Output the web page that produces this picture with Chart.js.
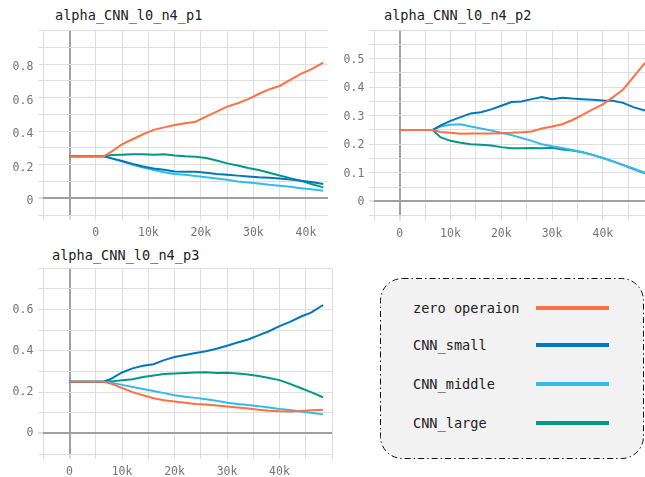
<!DOCTYPE html>
<html>
<head>
<meta charset="utf-8">
<script src="https://cdn.jsdelivr.net/npm/chart.js"></script>
<style>
  body { margin: 0; background: #fff; width: 645px; height: 477px; position: relative; overflow: hidden; font-family: "DejaVu Sans Mono", monospace; }
  .panel { position: absolute; }
  .title { position: absolute; font-size: 13.6px; line-height: 16px; color: #212121; white-space: nowrap; }
  .legend { position: absolute; left: 380px; top: 278px; width: 264px; height: 181px; }
  .legend svg { position: absolute; left: 0; top: 0; }
  .item { position: absolute; left: 33px; font-size: 13.6px; line-height: 16px; color: #212121; white-space: nowrap; }
  .swatch { position: absolute; left: 156px; width: 73px; height: 4px; }
</style>
</head>
<body>
<div class="title" style="left:55px;top:7px">alpha_CNN_l0_n4_p1</div>
<div class="title" style="left:384px;top:7px">alpha_CNN_l0_n4_p2</div>
<div class="title" style="left:52px;top:247px">alpha_CNN_l0_n4_p3</div>
<canvas id="p1" class="panel" width="330" height="240" style="left:0;top:0"></canvas>
<canvas id="p2" class="panel" width="315" height="240" style="left:330px;top:0"></canvas>
<canvas id="p3" class="panel" width="340" height="242" style="left:0;top:235px"></canvas>
<div class="legend" id="legend">
  <svg width="264" height="181"><rect x="0.5" y="0.5" width="263" height="180" rx="22" ry="22" fill="#f2f2f2" stroke="#111" stroke-width="1" stroke-dasharray="6 3 1.5 3"></rect></svg>
</div>
<script>
const seriesNames = ["zero operaion", "CNN_small", "CNN_middle", "CNN_large"];
const seriesColors = ["#ff7043", "#0077bb", "#33bbee", "#009988"];

// training steps since the start of each run
const steps = [0, 6500, 8000, 10000, 12000, 14000, 16000, 18000, 20000, 22000, 24000, 26000,
  28000, 30000, 32000, 34000, 36000, 38000, 40000, 42000, 44000, 46000, 48300];

// p1
const p1Zero = [0.25, 0.25, 0.278, 0.322, 0.352, 0.382, 0.408, 0.423, 0.437, 0.447, 0.457, 0.487, 0.517, 0.547, 0.567, 0.592, 0.622, 0.65, 0.67, 0.706, 0.742, 0.769, 0.81];
const p1Small = [0.25, 0.25, 0.238, 0.222, 0.205, 0.19, 0.178, 0.17, 0.16, 0.158, 0.158, 0.152, 0.145, 0.14, 0.135, 0.13, 0.125, 0.122, 0.118, 0.112, 0.105, 0.097, 0.085];
const p1Middle = [0.25, 0.25, 0.238, 0.22, 0.2, 0.183, 0.168, 0.155, 0.145, 0.14, 0.133, 0.125, 0.118, 0.11, 0.1, 0.094, 0.088, 0.08, 0.075, 0.068, 0.06, 0.053, 0.045];
const p1Large = [0.25, 0.25, 0.258, 0.26, 0.262, 0.262, 0.26, 0.262, 0.255, 0.25, 0.248, 0.24, 0.225, 0.208, 0.195, 0.18, 0.168, 0.152, 0.136, 0.12, 0.105, 0.085, 0.065];

// p2
const p2Zero = [0.25, 0.25, 0.243, 0.24, 0.237, 0.238, 0.238, 0.238, 0.239, 0.24, 0.242, 0.245, 0.255, 0.262, 0.27, 0.285, 0.303, 0.322, 0.34, 0.365, 0.392, 0.435, 0.485];
const p2Small = [0.25, 0.25, 0.265, 0.282, 0.295, 0.308, 0.312, 0.322, 0.335, 0.348, 0.35, 0.358, 0.365, 0.358, 0.363, 0.36, 0.358, 0.356, 0.353, 0.352, 0.345, 0.33, 0.318];
const p2Middle = [0.25, 0.25, 0.262, 0.268, 0.27, 0.262, 0.255, 0.248, 0.24, 0.232, 0.222, 0.212, 0.2, 0.193, 0.187, 0.18, 0.172, 0.163, 0.152, 0.14, 0.128, 0.115, 0.1];
const p2Large = [0.25, 0.25, 0.225, 0.212, 0.205, 0.2, 0.198, 0.196, 0.19, 0.186, 0.186, 0.187, 0.186, 0.188, 0.182, 0.178, 0.172, 0.163, 0.152, 0.14, 0.127, 0.113, 0.098];

// p3
const p3Zero = [0.25, 0.25, 0.24, 0.22, 0.2, 0.185, 0.17, 0.16, 0.155, 0.148, 0.142, 0.14, 0.135, 0.13, 0.125, 0.12, 0.115, 0.11, 0.107, 0.106, 0.108, 0.112, 0.115];
const p3Small = [0.25, 0.25, 0.265, 0.295, 0.315, 0.328, 0.335, 0.355, 0.37, 0.38, 0.39, 0.398, 0.41, 0.425, 0.44, 0.455, 0.475, 0.495, 0.52, 0.54, 0.565, 0.585, 0.622];
const p3Middle = [0.25, 0.25, 0.245, 0.235, 0.225, 0.215, 0.205, 0.195, 0.185, 0.178, 0.172, 0.165, 0.158, 0.148, 0.142, 0.137, 0.132, 0.125, 0.118, 0.113, 0.106, 0.1, 0.092];
const p3Large = [0.25, 0.25, 0.252, 0.258, 0.262, 0.273, 0.28, 0.288, 0.29, 0.293, 0.295, 0.296, 0.293, 0.294, 0.29, 0.285, 0.278, 0.268, 0.258, 0.24, 0.22, 0.2, 0.175];

// axis settings
const xTickLabels = { 0: "0", 10000: "10k", 20000: "20k", 30000: "30k", 40000: "40k" };

const GRID = "#dedede";
const AXIS = "#a0a0a0";
const TICK_FONT = { family: "DejaVu Sans Mono", size: 11.5 };

function isNear(a, b) {
  return Math.abs(a - b) < 1e-6;
}

// gridline values between min and max, every step
function gridValues(min, max, step) {
  const out = [];
  const n = Math.floor((max - min) / step + 1e-6);
  for (let k = 0; k <= n; k++) out.push({ value: Math.round((min + k * step) * 1000) / 1000 });
  return out;
}

function makePanel(id, series, opt) {
  const datasets = series.map((values, i) => ({
    label: seriesNames[i],
    data: values.map((v, k) => ({ x: steps[k] + opt.xShift, y: v })),
    borderColor: seriesColors[i],
    borderWidth: 2,
    pointRadius: 0,
    tension: 0,
  }));

  return new Chart(document.getElementById(id), {
    type: "line",
    data: { datasets },
    options: {
      responsive: false,
      animation: false,
      layout: { padding: { left: 0, top: opt.padTop, right: opt.padRight, bottom: 0 } },
      plugins: { legend: { display: false }, tooltip: { enabled: false } },
      scales: {
        x: {
          type: "linear",
          min: opt.xMin,
          max: opt.xMax,
          border: { display: false },
          grid: {
            color: (c) => (isNear(c.tick.value, opt.xShift) ? AXIS : GRID),
            lineWidth: (c) => (isNear(c.tick.value, opt.xShift) ? 2 : 1),
            tickColor: GRID,
            tickLength: 5,
          },
          ticks: {
            autoSkip: false,
            maxRotation: 0,
            padding: 6,
            color: "#757575",
            font: TICK_FONT,
            callback: (v) => xTickLabels[v] || "",
          },
          afterBuildTicks: (s) => {
            s.ticks = gridValues(opt.xMin, opt.xMax, 5000);
          },
          afterFit: (s) => {
            s.height = opt.xHeight;
            s.paddingLeft = 0;
            s.paddingRight = 0;
          },
        },
        y: {
          min: opt.yMin,
          max: opt.yMax,
          border: { display: false },
          grid: {
            color: (c) => (isNear(c.tick.value, 0) ? AXIS : GRID),
            lineWidth: (c) => (isNear(c.tick.value, 0) ? 2 : 1),
            tickColor: GRID,
            tickLength: 5,
          },
          ticks: {
            autoSkip: false,
            padding: 5,
            labelOffset: opt.yLabelShift,
            color: "#757575",
            font: TICK_FONT,
            callback: (v) => {
              const n = Math.round(v * 100);
              const step = Math.round(opt.yLabel * 100);
              if (n < 0 || n > Math.round(opt.yLabelMax * 100) || n % step !== 0) return "";
              return n === 0 ? "0" : String(n / 100);
            },
          },
          afterBuildTicks: (s) => {
            s.ticks = gridValues(opt.yMin, opt.yMax, opt.yGrid);
          },
          afterFit: (s) => {
            s.width = opt.yWidth;
            s.paddingTop = 0;
            s.paddingBottom = 0;
          },
        },
      },
    },
  });
}

makePanel("p1", [p1Zero, p1Small, p1Middle, p1Large], {
  xShift: -5000, xMin: -10000, xMax: 44200, yMin: -0.1, yMax: 1.0, yGrid: 0.1, yLabel: 0.2, yLabelMax: 0.8,
  padTop: 30.7, padRight: 2, yWidth: 43.3, xHeight: 25, yLabelShift: 3,
});

makePanel("p2", [p2Zero, p2Small, p2Middle, p2Large], {
  xShift: 0, xMin: -5000, xMax: 48300, yMin: -0.05, yMax: 0.6, yGrid: 0.05, yLabel: 0.1, yLabelMax: 0.5,
  padTop: 30, padRight: 0, yWidth: 44.3, xHeight: 24.3, yLabelShift: 1,
});

makePanel("p3", [p3Zero, p3Small, p3Middle, p3Large], {
  xShift: 0, xMin: -5000, xMax: 50000, yMin: -0.1, yMax: 0.8, yGrid: 0.1, yLabel: 0.2, yLabelMax: 0.6,
  padTop: 33.3, padRight: 8, yWidth: 43.3, xHeight: 23, yLabelShift: 0,
});

// legend box
const legendElement = document.getElementById("legend");
const legendRows = [30, 67, 106, 145];
seriesNames.forEach((name, i) => {
  const label = document.createElement("div");
  label.className = "item";
  label.style.top = legendRows[i] - 8 + "px";
  label.textContent = name;
  legendElement.appendChild(label);

  const swatch = document.createElement("div");
  swatch.className = "swatch";
  swatch.style.top = legendRows[i] - 2 + "px";
  swatch.style.background = seriesColors[i];
  legendElement.appendChild(swatch);
});
</script>
</body>
</html>
